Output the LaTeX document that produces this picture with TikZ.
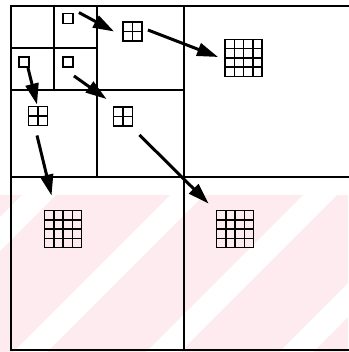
\documentclass[tikz,border=0pt]{standalone}
\usepackage{tikz}
\usetikzlibrary{arrows.meta,calc}
\definecolor{Wash}{RGB}{253,235,239}
\tikzset{
  quad/.style={line width=2pt},
  blk/.style={draw, line width=1.9pt, inner sep=0pt, minimum size=#1},
  cellone/.style={blk=10pt},
  celltwo/.style={blk=19pt, path picture={
    \draw[line width=1.6pt] (path picture bounding box.north) -- (path picture bounding box.south)
      (path picture bounding box.west) -- (path picture bounding box.east);}},
  cellfour/.style={blk=37pt, path picture={
    \foreach \f in {0.25,0.5,0.75}
      \draw[line width=1.5pt]
        ($(path picture bounding box.north west)!\f!(path picture bounding box.north east)$) --
        ($(path picture bounding box.south west)!\f!(path picture bounding box.south east)$)
        ($(path picture bounding box.north west)!\f!(path picture bounding box.south west)$) --
        ($(path picture bounding box.north east)!\f!(path picture bounding box.south east)$);}},
  push/.style={line width=3pt, -{Triangle[length=21pt,width=13pt]}},
}

\begin{document}
\begin{tikzpicture}[x=1pt,y=-1pt]
  \useasboundingbox (0,0) rectangle (348,352);
  % faint wash behind the lower half
  \begin{scope}
    \clip (0,195) rectangle (348,352);
    \fill[Wash] (0,195) rectangle (348,352);
    \foreach \l in {22,170,303,436}
      \fill[white] (\l,195) -- ++(34,0) -- ++(-157,157) -- ++(-34,0) -- cycle;
  \end{scope}
  % quadtree partition
  \draw[quad] (11,6) rectangle (357,350);
  \draw[quad] (184,6) -- (184,350) (11,177) -- (357,177);
  \draw[quad] (97,6) -- (97,177) (11,90) -- (184,90);
  \draw[quad] (54,6) -- (54,90) (11,48) -- (97,48);
  % blocks
  \node[cellone] (s1) at (68,18.5) {};
  \node[cellone] (s2) at (24,62) {};
  \node[cellone] (s3) at (68,62) {};
  \node[celltwo] (g1) at (132.5,31.5) {};
  \node[celltwo] (g2) at (38,116) {};
  \node[celltwo] (g3) at (123,116.5) {};
  \node[cellfour] (h1) at (243.5,58) {};
  \node[cellfour] (h2) at (63,229) {};
  \node[cellfour] (h3) at (235,229) {};
  % refinement arrows
  \draw[push] ([shift={(5,0)}]s1.north east) -- ([shift={(-8,0)}]g1.west);
  \draw[push] ([shift={(5,-1.5)}]g1.east) -- ([shift={(-6,-1)}]h1.west);
  \draw[push] ([shift={(4,0)}]s2.south) -- ([shift={(-1,-1)}]g2.north);
  \draw[push] ([shift={(0,8)}]s3.south east) -- ([shift={(-6,-7)}]g3.north west);
  \draw[push] ([shift={(-1,9)}]g2.south) -- ([shift={(8,-14)}]h2.north west);
  \draw[push] ([shift={(6,8)}]g3.south east) -- ([shift={(-7,-6)}]h3.north west);
\end{tikzpicture}
\end{document}
